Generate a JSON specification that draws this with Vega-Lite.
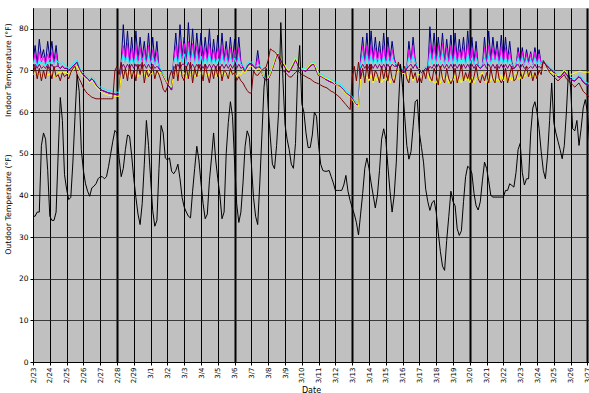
{
"$schema":"https://vega.github.io/schema/vega-lite/v6.json",
"width":556,"height":354,
"autosize":{"type":"none"},
"padding":{"left":33,"top":8,"right":0,"bottom":31},
"background":"white",
"config":{"view":{"fill":"#c0c0c0","stroke":null},"font":"DejaVu Sans"},
"data":{"format":{"parse":{"t":"date:'%y%m%d%H'"}},"values":[
{"t":"08022300","o":35,"n":72,"m":71.5,"c":71.5,"p":70.5,"y":69,"r":69},
{"t":"08022303","o":35,"n":76,"m":74,"c":72.5,"p":71.5,"y":69.5,"r":71},
{"t":"08022306","o":36,"n":71.5,"m":71,"c":71,"p":70.5,"y":68.5,"r":68},
{"t":"08022309","o":36,"n":77.5,"m":74.5,"c":72.5,"p":71.5,"y":69.5,"r":70.5},
{"t":"08022312","o":52,"n":73,"m":72,"c":71.5,"p":70.5,"y":68.5,"r":67.5},
{"t":"08022315","o":55,"n":75,"m":73.5,"c":72,"p":71,"y":69.5,"r":70},
{"t":"08022318","o":53.5,"n":72,"m":71.5,"c":71,"p":70.5,"y":68.5,"r":68},
{"t":"08022321","o":46,"n":77,"m":74,"c":72.5,"p":71.5,"y":69,"r":71},
{"t":"08022400","o":35,"n":73,"m":72,"c":71.5,"p":70.5,"y":69,"r":70},
{"t":"08022403","o":34,"n":77,"m":74.5,"c":72.5,"p":71.5,"y":69.5,"r":68},
{"t":"08022406","o":34,"n":72,"m":71.5,"c":71.5,"p":70.5,"y":68.5,"r":71},
{"t":"08022409","o":36,"n":76,"m":74,"c":72.5,"p":71,"y":69,"r":68.5},
{"t":"08022412","o":50,"n":71,"m":71,"c":72,"p":71,"y":69.5,"r":69},
{"t":"08022415","o":63.5,"n":70.5,"m":70.5,"c":71.5,"p":70.5,"y":69.5,"r":67.5},
{"t":"08022418","o":58,"n":71,"m":71,"c":72,"p":71,"y":69.5,"r":69.5},
{"t":"08022421","o":45,"n":70.5,"m":70.5,"c":71.5,"p":70.5,"y":69.5,"r":68.5},
{"t":"08022500","o":41.5,"n":70.5,"m":70.5,"c":71,"p":70.5,"y":69.5,"r":69},
{"t":"08022503","o":39,"n":70,"m":70,"c":70.5,"p":70,"y":69,"r":68},
{"t":"08022506","o":39.5,"n":70.5,"m":70.5,"c":71,"p":70.5,"y":69.5,"r":69.5},
{"t":"08022509","o":48,"n":71,"m":71,"c":71.5,"p":71,"y":70,"r":70.5},
{"t":"08022512","o":59,"n":71.5,"m":71.5,"c":72,"p":71.5,"y":70.5,"r":71},
{"t":"08022515","o":69,"n":72,"m":72,"c":72.5,"p":72,"y":71,"r":69},
{"t":"08022518","o":65,"n":70.5,"m":70.5,"c":71,"p":70.5,"y":70,"r":68},
{"t":"08022521","o":51,"n":69.5,"m":69.5,"c":70,"p":69.5,"y":69,"r":67},
{"t":"08022600","o":46,"n":69,"m":69,"c":69.5,"p":69,"y":68.5,"r":65.8},
{"t":"08022603","o":42.8,"n":68.5,"m":68.5,"c":69,"p":68.5,"y":68,"r":65},
{"t":"08022606","o":41,"n":68,"m":68,"c":68.5,"p":68,"y":67.5,"r":64.4},
{"t":"08022609","o":39.8,"n":67.5,"m":67.5,"c":68,"p":67.5,"y":67,"r":64},
{"t":"08022612","o":41.8,"n":68,"m":68,"c":68.5,"p":68,"y":67.5,"r":63.6},
{"t":"08022615","o":42.2,"n":67.5,"m":67.5,"c":68,"p":67.5,"y":67,"r":63.4},
{"t":"08022618","o":42.8,"n":66.5,"m":66.5,"c":67,"p":66.5,"y":66,"r":63.2},
{"t":"08022621","o":44,"n":66,"m":66,"c":66.5,"p":66,"y":65.5,"r":63.2},
{"t":"08022700","o":44.5,"n":65.5,"m":65.5,"c":66.1,"p":65.5,"y":65,"r":63.2},
{"t":"08022703","o":44.5,"n":65.2,"m":65.2,"c":65.8,"p":65.2,"y":64.6,"r":63.2},
{"t":"08022706","o":44,"n":65,"m":65,"c":65.6,"p":65,"y":64.4,"r":63.2},
{"t":"08022709","o":44.5,"n":64.8,"m":64.8,"c":65.4,"p":64.8,"y":64.2,"r":63.2},
{"t":"08022712","o":47,"n":64.6,"m":64.6,"c":65.2,"p":64.6,"y":64,"r":63.2},
{"t":"08022715","o":50,"n":64.5,"m":64.5,"c":65.1,"p":64.5,"y":64,"r":63.2},
{"t":"08022718","o":53,"n":64.4,"m":64.4,"c":65,"p":64.4,"y":63.9,"r":63.2},
{"t":"08022721","o":55.6,"n":64.3,"m":64.3,"c":64.9,"p":64.3,"y":63.8,"r":70},
{"t":"08022800","o":55,"n":64.2,"m":64.2,"c":64.8,"p":64.2,"y":63.8,"r":71},
{"t":"08022803","o":49,"n":64.1,"m":64.1,"c":64.7,"p":64.1,"y":63.8,"r":69},
{"t":"08022806","o":44.5,"n":72,"m":71.5,"c":71.5,"p":70.5,"y":69,"r":72},
{"t":"08022809","o":46.5,"n":81,"m":76,"c":74,"p":71.5,"y":69.5,"r":68},
{"t":"08022812","o":51,"n":73,"m":72,"c":72,"p":70.5,"y":68.5,"r":70.5},
{"t":"08022815","o":54.5,"n":79.5,"m":76.5,"c":73.5,"p":71.5,"y":70,"r":67.5},
{"t":"08022818","o":54.2,"n":72,"m":71.5,"c":71.5,"p":70.5,"y":68.5,"r":71.5},
{"t":"08022821","o":49.5,"n":78,"m":75.5,"c":73,"p":71.5,"y":69.5,"r":68},
{"t":"08022900","o":44,"n":72,"m":71.5,"c":71.5,"p":70.5,"y":69,"r":70},
{"t":"08022903","o":39.5,"n":79.5,"m":76,"c":73.5,"p":71.5,"y":69.5,"r":67.5},
{"t":"08022906","o":35.5,"n":72.5,"m":72,"c":71.5,"p":70.5,"y":68.5,"r":71.5},
{"t":"08022909","o":33,"n":78,"m":75.5,"c":73,"p":71.5,"y":69.5,"r":69},
{"t":"08022912","o":38,"n":73,"m":72,"c":71.5,"p":70.5,"y":69,"r":72},
{"t":"08022915","o":47.5,"n":77,"m":75,"c":73,"p":71.5,"y":69.5,"r":67},
{"t":"08022918","o":58,"n":72,"m":71.5,"c":71.5,"p":70.5,"y":68.5,"r":70},
{"t":"08022921","o":52,"n":79,"m":76,"c":73.5,"p":71.5,"y":70,"r":68.5},
{"t":"08030100","o":44,"n":72,"m":71.5,"c":71.5,"p":70.5,"y":69,"r":69.5},
{"t":"08030103","o":36.4,"n":78,"m":75,"c":73,"p":71.5,"y":69.5,"r":71},
{"t":"08030106","o":32.6,"n":72,"m":71.5,"c":71.5,"p":70.5,"y":68.5,"r":68},
{"t":"08030109","o":34,"n":77,"m":74.5,"c":72.5,"p":71,"y":69,"r":70},
{"t":"08030112","o":46.5,"n":70.5,"m":70.5,"c":71,"p":70.5,"y":69.5,"r":69},
{"t":"08030115","o":56.8,"n":69.8,"m":69.8,"c":70.3,"p":69.8,"y":69.5,"r":67.5},
{"t":"08030118","o":55,"n":68.8,"m":68.8,"c":69.3,"p":68.8,"y":69,"r":65.5},
{"t":"08030121","o":49,"n":67.8,"m":67.8,"c":68.3,"p":67.8,"y":68,"r":64.8},
{"t":"08030200","o":48.5,"n":66.8,"m":66.8,"c":67.3,"p":66.8,"y":67,"r":66},
{"t":"08030203","o":49,"n":66,"m":66,"c":66.5,"p":66,"y":66.5,"r":68.5},
{"t":"08030206","o":45.8,"n":65.3,"m":65.3,"c":65.8,"p":65.3,"y":66,"r":70},
{"t":"08030209","o":45.2,"n":73,"m":72,"c":72,"p":71,"y":69,"r":68},
{"t":"08030212","o":46,"n":79,"m":76,"c":73.5,"p":70.5,"y":69.5,"r":71.5},
{"t":"08030215","o":47.5,"n":72,"m":71.5,"c":71.5,"p":71.5,"y":68.5,"r":67.5},
{"t":"08030218","o":44,"n":81,"m":77,"c":74,"p":70.5,"y":69.5,"r":72},
{"t":"08030221","o":39.5,"n":73.5,"m":72,"c":72,"p":71.5,"y":69,"r":68.5},
{"t":"08030300","o":37.2,"n":78,"m":76.5,"c":74,"p":71.5,"y":69.5,"r":67.5},
{"t":"08030303","o":36,"n":72,"m":71.5,"c":71.5,"p":70.5,"y":68.5,"r":71},
{"t":"08030306","o":35,"n":81.5,"m":77,"c":74.5,"p":72,"y":69.5,"r":68},
{"t":"08030309","o":34.6,"n":73,"m":72,"c":71.5,"p":70.5,"y":69,"r":72},
{"t":"08030312","o":41,"n":80,"m":76.5,"c":74,"p":71.5,"y":69.5,"r":67},
{"t":"08030315","o":46.5,"n":72.5,"m":72,"c":71.5,"p":70.5,"y":68.5,"r":70.5},
{"t":"08030318","o":51.8,"n":79,"m":76,"c":73.5,"p":71.5,"y":69.5,"r":68.5},
{"t":"08030321","o":48.5,"n":73,"m":72,"c":71.5,"p":70.5,"y":69,"r":71.5},
{"t":"08030400","o":43,"n":79,"m":76,"c":73.5,"p":71.5,"y":69.5,"r":70},
{"t":"08030403","o":38,"n":72.5,"m":72,"c":71.5,"p":70.5,"y":69,"r":67.5},
{"t":"08030406","o":34.4,"n":78,"m":75.5,"c":73,"p":71.5,"y":69.5,"r":71.5},
{"t":"08030409","o":35.5,"n":73,"m":72,"c":71.5,"p":70.5,"y":68.5,"r":69},
{"t":"08030412","o":43.5,"n":80,"m":76.5,"c":74,"p":71.5,"y":69.5,"r":67},
{"t":"08030415","o":49,"n":72,"m":71.5,"c":71.5,"p":70.5,"y":69,"r":70.5},
{"t":"08030418","o":55,"n":77.5,"m":75,"c":73,"p":71.5,"y":69.5,"r":68},
{"t":"08030421","o":48.5,"n":72.5,"m":72,"c":71.5,"p":70.5,"y":68.5,"r":71},
{"t":"08030500","o":44,"n":78.5,"m":75.5,"c":73,"p":71.5,"y":69.5,"r":68.5},
{"t":"08030503","o":40,"n":72,"m":71.5,"c":71.5,"p":70.5,"y":68.5,"r":71},
{"t":"08030506","o":34.4,"n":79,"m":76,"c":73.5,"p":71.5,"y":69.5,"r":67.5},
{"t":"08030509","o":36,"n":72.5,"m":72,"c":71.5,"p":70.5,"y":69,"r":70},
{"t":"08030512","o":50,"n":77,"m":75,"c":73,"p":71.5,"y":69.5,"r":69.5},
{"t":"08030515","o":57.5,"n":72,"m":71.5,"c":71.5,"p":70.5,"y":68.5,"r":68},
{"t":"08030518","o":62.5,"n":78,"m":75.5,"c":73,"p":71.5,"y":69.5,"r":70.5},
{"t":"08030521","o":59,"n":72.5,"m":72,"c":71.5,"p":70.5,"y":69,"r":69},
{"t":"08030600","o":48,"n":77.5,"m":75,"c":73,"p":71.5,"y":69.5,"r":69.5},
{"t":"08030603","o":38,"n":72,"m":71.5,"c":71.5,"p":70.5,"y":68.5,"r":67.6},
{"t":"08030606","o":33.5,"n":78,"m":75.5,"c":73,"p":71.5,"y":69.5,"r":68.5},
{"t":"08030609","o":36,"n":72,"m":71.5,"c":71.5,"p":70.5,"y":69,"r":67.5},
{"t":"08030612","o":43,"n":70.8,"m":70.8,"c":71.3,"p":70.8,"y":70,"r":67},
{"t":"08030615","o":51.8,"n":69.6,"m":69.6,"c":70.1,"p":69.6,"y":69.4,"r":66},
{"t":"08030618","o":55.5,"n":71,"m":71,"c":71.5,"p":71,"y":70.4,"r":65.2},
{"t":"08030621","o":54,"n":71.6,"m":71.6,"c":72.1,"p":71.6,"y":71,"r":64.6},
{"t":"08030700","o":47.5,"n":71.6,"m":71.6,"c":72.1,"p":71.6,"y":71,"r":64.6},
{"t":"08030703","o":39.5,"n":71,"m":71,"c":71.5,"p":71,"y":70.5,"r":70},
{"t":"08030706","o":35,"n":70.5,"m":70.5,"c":71,"p":70.5,"y":70,"r":69},
{"t":"08030709","o":33,"n":74.8,"m":73,"c":71.3,"p":70.8,"y":70.3,"r":68.8},
{"t":"08030712","o":43,"n":70.8,"m":70.8,"c":71.3,"p":70.8,"y":70.5,"r":69.5},
{"t":"08030715","o":54.5,"n":69.5,"m":69.5,"c":70,"p":69.5,"y":69.5,"r":70},
{"t":"08030718","o":66,"n":68.2,"m":68.2,"c":68.7,"p":68.2,"y":68.4,"r":70.5},
{"t":"08030721","o":70.5,"n":67.6,"m":67.6,"c":68.1,"p":67.6,"y":68,"r":70.8},
{"t":"08030800","o":61,"n":68,"m":68,"c":68.5,"p":68,"y":68.2,"r":72.5},
{"t":"08030803","o":54,"n":69,"m":69,"c":69.5,"p":69,"y":69.2,"r":75.2},
{"t":"08030806","o":47.5,"n":70.5,"m":70.5,"c":71,"p":70.5,"y":70.8,"r":74.8},
{"t":"08030809","o":46.4,"n":72,"m":72,"c":72.5,"p":72,"y":72.4,"r":74.5},
{"t":"08030812","o":52,"n":73.5,"m":73.5,"c":74,"p":73.5,"y":74,"r":74},
{"t":"08030815","o":60.4,"n":74,"m":74,"c":74.5,"p":74,"y":74.2,"r":73},
{"t":"08030818","o":81.5,"n":72.5,"m":72.5,"c":73,"p":72.5,"y":73,"r":71.5},
{"t":"08030821","o":68,"n":71.6,"m":71.6,"c":72.1,"p":71.6,"y":72,"r":70},
{"t":"08030900","o":57,"n":70.8,"m":70.8,"c":71.3,"p":70.8,"y":71.3,"r":69.6},
{"t":"08030903","o":53.5,"n":69.8,"m":69.8,"c":70.3,"p":69.8,"y":70.3,"r":69},
{"t":"08030906","o":51,"n":69.6,"m":69.6,"c":70.1,"p":69.6,"y":70,"r":68.5},
{"t":"08030909","o":47.5,"n":70.5,"m":70.5,"c":71,"p":70.5,"y":71,"r":68.4},
{"t":"08030912","o":46.5,"n":71.5,"m":71.5,"c":72,"p":71.5,"y":72,"r":69},
{"t":"08030915","o":52.5,"n":72.6,"m":72.6,"c":73.1,"p":72.6,"y":73,"r":69.5},
{"t":"08030918","o":69,"n":71.5,"m":71.5,"c":72,"p":71.5,"y":72,"r":70},
{"t":"08030921","o":76,"n":70.4,"m":70.4,"c":70.9,"p":70.4,"y":70.8,"r":69.5},
{"t":"08031000","o":62,"n":70,"m":70,"c":70.5,"p":70,"y":70.3,"r":69},
{"t":"08031003","o":60,"n":70,"m":70,"c":70.5,"p":70,"y":70.3,"r":68.8},
{"t":"08031006","o":55,"n":69.8,"m":69.8,"c":70.3,"p":69.8,"y":70.2,"r":68.5},
{"t":"08031009","o":51.5,"n":70.5,"m":70.5,"c":71,"p":70.5,"y":70.8,"r":68.2},
{"t":"08031012","o":51.5,"n":71,"m":71,"c":71.5,"p":71,"y":71.4,"r":68},
{"t":"08031015","o":54.5,"n":71.4,"m":71.4,"c":71.9,"p":71.4,"y":71.8,"r":67.6},
{"t":"08031018","o":60,"n":71.4,"m":71.4,"c":71.9,"p":71.4,"y":71.6,"r":67.2},
{"t":"08031021","o":59,"n":70,"m":70,"c":70.5,"p":70,"y":70.5,"r":67},
{"t":"08031100","o":52,"n":68.8,"m":68.8,"c":69.4,"p":68.8,"y":69,"r":66.8},
{"t":"08031103","o":47.5,"n":68.6,"m":68.6,"c":69.2,"p":68.6,"y":68.8,"r":66.5},
{"t":"08031106","o":46,"n":68.4,"m":68.4,"c":69,"p":68.4,"y":68.5,"r":66.2},
{"t":"08031109","o":45.8,"n":68,"m":68,"c":68.6,"p":68,"y":68.2,"r":66},
{"t":"08031112","o":45.8,"n":67.7,"m":67.7,"c":68.3,"p":67.7,"y":68,"r":65.8},
{"t":"08031115","o":46,"n":67.4,"m":67.4,"c":68,"p":67.4,"y":67.8,"r":65.4},
{"t":"08031118","o":44.5,"n":67.2,"m":67.2,"c":67.8,"p":67.2,"y":67.5,"r":65},
{"t":"08031121","o":43,"n":67,"m":67,"c":67.6,"p":67,"y":67.2,"r":64.8},
{"t":"08031200","o":41.2,"n":66.6,"m":66.6,"c":67.2,"p":66.6,"y":66.6,"r":64.4},
{"t":"08031203","o":41.2,"n":66.4,"m":66.4,"c":67,"p":66.4,"y":66.4,"r":64},
{"t":"08031206","o":41.2,"n":66.2,"m":66.2,"c":66.8,"p":66.2,"y":66,"r":63.6},
{"t":"08031209","o":41.2,"n":65.8,"m":65.8,"c":66.4,"p":65.8,"y":65.6,"r":63},
{"t":"08031212","o":42.5,"n":65.2,"m":65.2,"c":65.8,"p":65.2,"y":65,"r":62.4},
{"t":"08031215","o":44.8,"n":64.6,"m":64.6,"c":65.2,"p":64.6,"y":64.4,"r":61.8},
{"t":"08031218","o":41,"n":64.2,"m":64.2,"c":64.8,"p":64.2,"y":64,"r":61.2},
{"t":"08031221","o":38.8,"n":63.8,"m":63.8,"c":64.4,"p":63.8,"y":63.6,"r":60.6},
{"t":"08031300","o":37,"n":63.2,"m":63.2,"c":63.8,"p":63.2,"y":63,"r":68.4},
{"t":"08031303","o":35.5,"n":62.4,"m":62.4,"c":63,"p":62.4,"y":62.2,"r":71},
{"t":"08031306","o":33.5,"n":61.8,"m":61.8,"c":62.4,"p":61.8,"y":61.6,"r":67.5},
{"t":"08031309","o":30.5,"n":61.6,"m":61.6,"c":62.2,"p":61.6,"y":61.4,"r":72},
{"t":"08031312","o":35.5,"n":73,"m":72,"c":71.5,"p":70.5,"y":68,"r":68},
{"t":"08031315","o":40.5,"n":78,"m":76,"c":73.5,"p":71.5,"y":68.5,"r":70.5},
{"t":"08031318","o":46.5,"n":72,"m":71.5,"c":71.5,"p":70.5,"y":67.5,"r":67},
{"t":"08031321","o":49,"n":79,"m":76,"c":73.5,"p":71.5,"y":68.5,"r":71.5},
{"t":"08031400","o":46.5,"n":72,"m":71.5,"c":71.5,"p":70.5,"y":67.5,"r":68},
{"t":"08031403","o":43,"n":79.5,"m":76,"c":73.5,"p":71.5,"y":69,"r":71.5},
{"t":"08031406","o":40,"n":72.5,"m":72,"c":71.5,"p":70.5,"y":67,"r":67.5},
{"t":"08031409","o":37,"n":78,"m":75.5,"c":73,"p":71.5,"y":68.5,"r":70},
{"t":"08031412","o":40,"n":73,"m":72,"c":71.5,"p":70.5,"y":67.5,"r":69},
{"t":"08031415","o":46,"n":77,"m":75,"c":73,"p":71.5,"y":69,"r":67},
{"t":"08031418","o":53.5,"n":72,"m":71.5,"c":71.5,"p":70.5,"y":67,"r":71},
{"t":"08031421","o":56,"n":79,"m":76,"c":73.5,"p":71.5,"y":68,"r":68},
{"t":"08031500","o":53.5,"n":72,"m":71.5,"c":71.5,"p":70.5,"y":67.5,"r":70.5},
{"t":"08031503","o":47,"n":78,"m":75.5,"c":73,"p":71.5,"y":69,"r":67.5},
{"t":"08031506","o":41,"n":72.5,"m":72,"c":71.5,"p":70.5,"y":67,"r":71},
{"t":"08031509","o":36,"n":77,"m":75,"c":73,"p":71.5,"y":68.5,"r":68},
{"t":"08031512","o":40,"n":73,"m":72.5,"c":72,"p":71,"y":68,"r":67},
{"t":"08031515","o":48,"n":71,"m":71,"c":71.5,"p":71,"y":69.5,"r":69.5},
{"t":"08031518","o":61,"n":71.5,"m":71.5,"c":72,"p":71.5,"y":70,"r":72},
{"t":"08031521","o":71.5,"n":70.5,"m":70.5,"c":71,"p":70.5,"y":69.5,"r":70},
{"t":"08031600","o":66,"n":70,"m":70,"c":70.5,"p":70,"y":69.5,"r":69.5},
{"t":"08031603","o":59,"n":69.6,"m":69.6,"c":70.1,"p":69.6,"y":69,"r":71},
{"t":"08031606","o":52,"n":70.5,"m":70.5,"c":71,"p":70.5,"y":69.5,"r":68},
{"t":"08031609","o":48.7,"n":77,"m":75,"c":73,"p":71,"y":68,"r":67},
{"t":"08031612","o":50.5,"n":72,"m":72,"c":72,"p":71.5,"y":68.5,"r":70.5},
{"t":"08031615","o":56.5,"n":78,"m":76,"c":73.5,"p":70.5,"y":67.5,"r":68},
{"t":"08031618","o":62.5,"n":72.5,"m":72,"c":72,"p":71.5,"y":68.5,"r":69.5},
{"t":"08031621","o":63,"n":70.5,"m":70.5,"c":71,"p":70.5,"y":69,"r":67},
{"t":"08031700","o":55,"n":70,"m":70,"c":70.5,"p":70,"y":69,"r":68.5},
{"t":"08031703","o":51.5,"n":69.5,"m":69.5,"c":70,"p":69.5,"y":68.5,"r":67},
{"t":"08031706","o":47.8,"n":70,"m":70,"c":70.5,"p":70,"y":69,"r":70},
{"t":"08031709","o":41.5,"n":70.5,"m":70.5,"c":71,"p":70.5,"y":69.5,"r":68},
{"t":"08031712","o":38.5,"n":70,"m":70,"c":70.5,"p":70,"y":69,"r":71},
{"t":"08031715","o":36.4,"n":80.5,"m":76.5,"c":74,"p":71,"y":67.5,"r":68.5},
{"t":"08031718","o":38.2,"n":73,"m":72.5,"c":71.5,"p":70.5,"y":68,"r":67.5},
{"t":"08031721","o":38.8,"n":79,"m":76,"c":73.5,"p":71.5,"y":67,"r":70.5},
{"t":"08031800","o":36,"n":72.5,"m":72,"c":71.5,"p":70.5,"y":67,"r":69},
{"t":"08031803","o":31,"n":78,"m":76,"c":73.5,"p":71.5,"y":68.5,"r":66.5},
{"t":"08031806","o":26.5,"n":73,"m":72.5,"c":71.5,"p":70.5,"y":67,"r":71},
{"t":"08031809","o":23,"n":79,"m":76.5,"c":74,"p":71.5,"y":69,"r":68},
{"t":"08031812","o":22,"n":72,"m":71.5,"c":71.5,"p":70.5,"y":67.5,"r":67},
{"t":"08031815","o":29.2,"n":77.5,"m":75.5,"c":73,"p":71.5,"y":68.5,"r":70.5},
{"t":"08031818","o":35,"n":72.5,"m":72,"c":71.5,"p":70.5,"y":67,"r":68},
{"t":"08031821","o":41,"n":78.5,"m":76,"c":73.5,"p":71.5,"y":68,"r":66.8},
{"t":"08031900","o":38.5,"n":72,"m":71.5,"c":71.5,"p":70.5,"y":67.5,"r":68},
{"t":"08031903","o":37.5,"n":79,"m":76,"c":73.5,"p":71.5,"y":69,"r":70.5},
{"t":"08031906","o":32,"n":72.5,"m":72,"c":71.5,"p":70.5,"y":67,"r":67},
{"t":"08031909","o":30.4,"n":77.5,"m":75,"c":73,"p":71.5,"y":68,"r":69},
{"t":"08031912","o":31.5,"n":73,"m":72.5,"c":71.5,"p":70.5,"y":67,"r":71.5},
{"t":"08031915","o":38.5,"n":78,"m":75.5,"c":73,"p":71.5,"y":69,"r":67.5},
{"t":"08031918","o":44.5,"n":72,"m":71.5,"c":71.5,"p":70.5,"y":67.5,"r":69.5},
{"t":"08031921","o":47,"n":79.5,"m":76.5,"c":74,"p":71.5,"y":68.5,"r":68},
{"t":"08032000","o":46.5,"n":72.5,"m":72,"c":71.5,"p":70.5,"y":67,"r":70},
{"t":"08032003","o":45.3,"n":78,"m":75.5,"c":73,"p":71.5,"y":68.5,"r":67},
{"t":"08032006","o":40.5,"n":72,"m":71.5,"c":71.5,"p":70.5,"y":67,"r":68.5},
{"t":"08032009","o":37.5,"n":77,"m":74.5,"c":73,"p":71.5,"y":68,"r":71},
{"t":"08032012","o":36.5,"n":71,"m":71,"c":71.5,"p":71,"y":68.5,"r":68},
{"t":"08032015","o":38.5,"n":70.5,"m":70.5,"c":71,"p":70.5,"y":69,"r":67},
{"t":"08032018","o":43.5,"n":71,"m":71,"c":71.5,"p":71,"y":69.5,"r":69},
{"t":"08032021","o":48,"n":78,"m":75.5,"c":73,"p":71.5,"y":67.5,"r":67.5},
{"t":"08032100","o":46.5,"n":72,"m":71.5,"c":71.5,"p":70.5,"y":67,"r":69.5},
{"t":"08032103","o":43.5,"n":79.5,"m":76,"c":73.5,"p":71.5,"y":68.5,"r":67},
{"t":"08032106","o":40,"n":72.5,"m":72,"c":71.5,"p":70.5,"y":67.5,"r":70.5},
{"t":"08032109","o":39.6,"n":78,"m":75.5,"c":73,"p":71.5,"y":69,"r":68},
{"t":"08032112","o":39.6,"n":73,"m":72.5,"c":72,"p":70.5,"y":67,"r":67},
{"t":"08032115","o":39.6,"n":77,"m":75,"c":73,"p":71.5,"y":68,"r":71},
{"t":"08032118","o":39.6,"n":72,"m":71.5,"c":71.5,"p":70.5,"y":67.5,"r":68},
{"t":"08032121","o":39.6,"n":78.5,"m":76,"c":73.5,"p":71.5,"y":69,"r":67},
{"t":"08032200","o":39.6,"n":72,"m":71.5,"c":71.5,"p":70.5,"y":67.5,"r":68},
{"t":"08032203","o":41.2,"n":78,"m":75.5,"c":73,"p":71.5,"y":69,"r":70.5},
{"t":"08032206","o":41.2,"n":72.5,"m":72,"c":71.5,"p":70.5,"y":67,"r":67},
{"t":"08032209","o":42.8,"n":77,"m":74.5,"c":73,"p":71.5,"y":68.5,"r":69},
{"t":"08032212","o":42.4,"n":72,"m":71.5,"c":71.5,"p":70.5,"y":67.5,"r":71},
{"t":"08032215","o":42,"n":70.5,"m":70.5,"c":71,"p":70.5,"y":69,"r":67.5},
{"t":"08032218","o":45.5,"n":71,"m":71,"c":71.5,"p":71,"y":69.5,"r":68},
{"t":"08032221","o":51,"n":75.5,"m":74.5,"c":73,"p":71.5,"y":68,"r":70},
{"t":"08032300","o":52.5,"n":72,"m":71.5,"c":71.5,"p":70.5,"y":68,"r":70},
{"t":"08032303","o":45.5,"n":75.5,"m":74.5,"c":73,"p":71.5,"y":69.5,"r":68},
{"t":"08032306","o":42.5,"n":71.5,"m":71.5,"c":71.5,"p":70.5,"y":68.5,"r":69.5},
{"t":"08032309","o":44,"n":75,"m":74,"c":72.5,"p":71,"y":69,"r":71},
{"t":"08032312","o":44,"n":72,"m":71.5,"c":71.5,"p":70.5,"y":69.5,"r":68.5},
{"t":"08032315","o":55,"n":74.5,"m":74,"c":72.5,"p":71,"y":68.5,"r":70},
{"t":"08032318","o":61,"n":71.5,"m":71.5,"c":71.5,"p":70.5,"y":69,"r":67.5},
{"t":"08032321","o":62.5,"n":75.5,"m":74.5,"c":73,"p":71.5,"y":68.5,"r":69.5},
{"t":"08032400","o":60,"n":72,"m":71.5,"c":71.5,"p":70.5,"y":68.5,"r":68},
{"t":"08032403","o":56,"n":75,"m":74,"c":72.5,"p":71,"y":69,"r":70},
{"t":"08032406","o":50.5,"n":71.5,"m":71.5,"c":71.5,"p":70.5,"y":69.5,"r":69},
{"t":"08032409","o":46,"n":72,"m":72,"c":72.5,"p":72,"y":70,"r":72.4},
{"t":"08032412","o":44,"n":71.5,"m":71.5,"c":72,"p":71.5,"y":70.5,"r":71.5},
{"t":"08032415","o":49.5,"n":71,"m":71,"c":71.5,"p":71,"y":70,"r":70.5},
{"t":"08032418","o":58,"n":70.5,"m":70.5,"c":71,"p":70.5,"y":69.5,"r":69.5},
{"t":"08032421","o":67,"n":70,"m":70,"c":70.5,"p":70,"y":69.5,"r":69},
{"t":"08032500","o":57.5,"n":69.5,"m":69.5,"c":70,"p":69.5,"y":69.2,"r":68.5},
{"t":"08032503","o":55,"n":69,"m":69,"c":69.5,"p":69,"y":69,"r":68},
{"t":"08032506","o":53,"n":68.5,"m":68.5,"c":69,"p":68.5,"y":68.8,"r":67.5},
{"t":"08032509","o":51,"n":68.4,"m":68.4,"c":68.9,"p":68.4,"y":69,"r":68},
{"t":"08032512","o":48.8,"n":69,"m":69,"c":69.5,"p":69,"y":69.5,"r":68.5},
{"t":"08032515","o":52,"n":69.8,"m":69.8,"c":70.3,"p":69.8,"y":70,"r":69},
{"t":"08032518","o":60,"n":69,"m":69,"c":69.5,"p":69,"y":69.5,"r":68},
{"t":"08032521","o":70,"n":68.5,"m":68.5,"c":69,"p":68.5,"y":69.2,"r":67.5},
{"t":"08032600","o":66,"n":68,"m":68,"c":68.5,"p":68,"y":69,"r":67},
{"t":"08032603","o":56,"n":67.6,"m":67.6,"c":68.1,"p":67.6,"y":69.2,"r":66.5},
{"t":"08032606","o":55.5,"n":67.5,"m":67.5,"c":68,"p":67.5,"y":69.4,"r":66},
{"t":"08032609","o":58,"n":68,"m":68,"c":68.5,"p":68,"y":69.6,"r":66.5},
{"t":"08032612","o":52,"n":68.5,"m":68.5,"c":69,"p":68.5,"y":69.8,"r":67},
{"t":"08032615","o":56,"n":68,"m":68,"c":68.5,"p":68,"y":69.8,"r":66},
{"t":"08032618","o":61,"n":67.2,"m":67.2,"c":67.7,"p":67.2,"y":69.6,"r":65},
{"t":"08032621","o":63,"n":66.8,"m":66.8,"c":67.3,"p":66.8,"y":69.6,"r":64.5},
{"t":"08032700","o":60,"n":66.5,"m":66.5,"c":67,"p":66.5,"y":69.6,"r":64},
{"t":"08032703","o":53,"n":66.2,"m":66.2,"c":66.7,"p":66.2,"y":69.6,"r":63.6},
{"t":"08032706","o":43,"n":66,"m":66,"c":66.5,"p":66,"y":69.8,"r":66},
{"t":"08032709","o":38,"n":66,"m":66,"c":66.5,"p":66,"y":70,"r":71}
]},
"encoding":{
"x":{"field":"t","type":"temporal",
"scale":{"domain":[{"year":2008,"month":2,"date":23},{"year":2008,"month":3,"date":27,"hours":2,"minutes":17}]},
"axis":{"tickCount":{"interval":"day","step":1},"format":"%-m/%-d","labelAngle":270,"labelFontSize":7,"labelColor":"black","labelPadding":2,"labelOverlap":false,"labelFlush":false,"labelBound":false,
"tickSize":3,"tickColor":"black","domainColor":"black",
"grid":true,"gridColor":"black","gridOpacity":1,
"gridWidth":{"condition":{"test":"day(datum.value) === 4","value":2},"value":1},
"title":"Date","titleFontSize":8,"titleFontWeight":"normal","titleColor":"black","titlePadding":4}}
},
"layer":[
{"mark":{"type":"line","color":"#000080","strokeWidth":1,"clip":true},
"encoding":{"y":{"field":"n","type":"quantitative","scale":{"domain":[0,85],"nice":false,"zero":false},
"axis":{"title":"Outdoor Temperature (°F)\u00a0\u00a0\u00a0\u00a0\u00a0\u00a0\u00a0\u00a0\u00a0\u00a0\u00a0\u00a0\u00a0\u00a0\u00a0Indoor Temperature (°F)",
"values":[0,5,10,15,20,25,30,35,40,45,50,55,60,65,70,75,80],
"labelExpr":"datum.value % 10 === 0 ? datum.label : ''",
"labelFontSize":7.5,"labelColor":"black","labelPadding":2,
"tickSize":3,"tickColor":"black","tickOpacity":{"condition":{"test":"datum.value % 10 !== 0","value":0},"value":1},
"domainColor":"black",
"grid":true,"gridColor":"#222222","gridOpacity":1,"gridWidth":1,
"gridDash":{"condition":{"test":"datum.value % 10 !== 0","value":[12,5]},"value":[1,0]},
"gridDashOffset":14.7,
"titleFontSize":7.8,"titleFontWeight":"normal","titleColor":"black","titleX":-21,"titleY":130.5}}}},
{"mark":{"type":"line","color":"#ff00ff","strokeWidth":1,"clip":true},
"encoding":{"y":{"field":"m","type":"quantitative","scale":{"domain":[0,85]}}}},
{"mark":{"type":"line","color":"#00ffff","strokeWidth":1,"clip":true},
"encoding":{"y":{"field":"c","type":"quantitative","scale":{"domain":[0,85]}}}},
{"mark":{"type":"line","color":"#800080","strokeWidth":1,"clip":true},
"encoding":{"y":{"field":"p","type":"quantitative","scale":{"domain":[0,85]}}}},
{"mark":{"type":"line","color":"#ffff00","strokeWidth":1,"clip":true},
"encoding":{"y":{"field":"y","type":"quantitative","scale":{"domain":[0,85]}}}},
{"mark":{"type":"line","color":"#800000","strokeWidth":1,"clip":true},
"encoding":{"y":{"field":"r","type":"quantitative","scale":{"domain":[0,85]}}}},
{"mark":{"type":"line","color":"#000000","strokeWidth":1,"clip":true},
"encoding":{"y":{"field":"o","type":"quantitative","scale":{"domain":[0,85]}}}}
]
}
